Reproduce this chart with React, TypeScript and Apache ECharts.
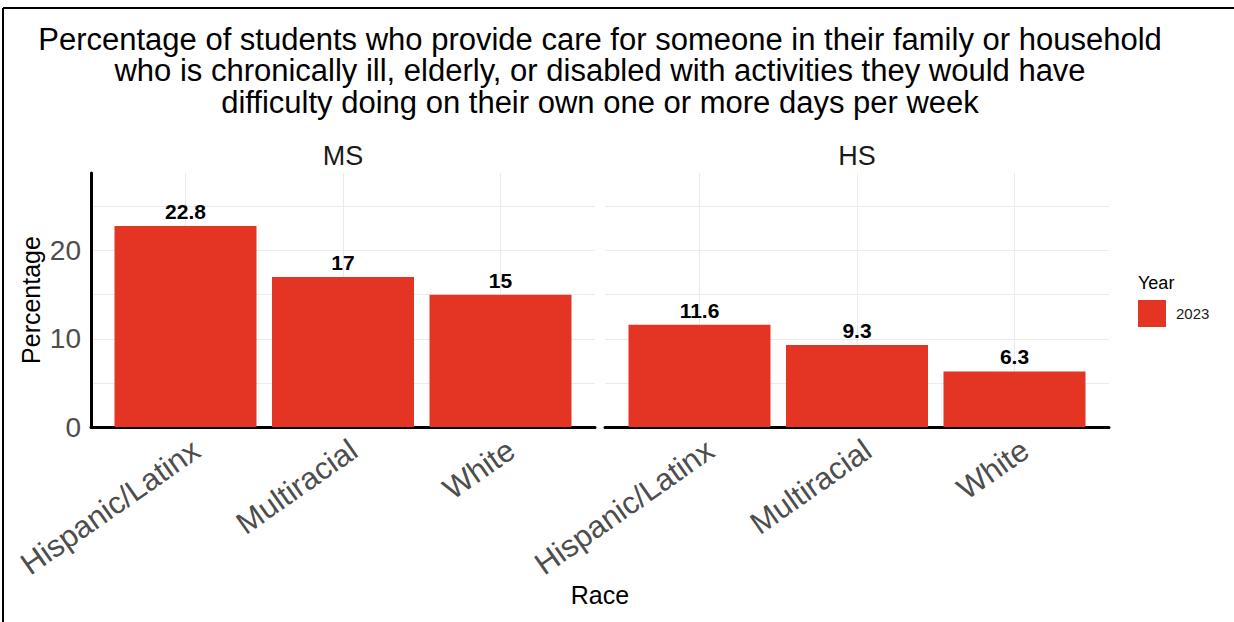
import React, { useEffect, useRef } from "react";
import * as echarts from "echarts";

const titleLines = [
  "Percentage of students who provide care for someone in their family or household",
  "who is chronically ill, elderly, or disabled with activities they would have",
  "difficulty doing on their own one or more days per week",
];
const panels = ["MS", "HS"];
const categories = ["Hispanic/Latinx", "Multiracial", "White"];
const msValues = [22.8, 17, 15];
const hsValues = [11.6, 9.3, 6.3];
const yMajorTicks = [0, 10, 20];
const legendTitle = "Year";
const legendYear = "2023";
const xTitle = "Race";
const yTitle = "Percentage";

const FONT = "'Liberation Sans', Arial, Helvetica, sans-serif";
const RED = "#e43424";

export default function App() {
  const ref = useRef<HTMLDivElement>(null);
  useEffect(() => {
    if (!ref.current) return;
    const chart = echarts.init(ref.current, undefined, { renderer: "svg" });
    const panelValues = [msValues, hsValues];
    const grids = [
      { left: 91, right: 1234 - 595, top: 173, bottom: 622 - 427 },
      { left: 605, right: 1234 - 1109, top: 173, bottom: 622 - 427 },
    ];
    const xAxes = grids.map((_, i) => ({
      type: "value",
      gridIndex: i,
      min: 0.4,
      max: categories.length + 0.6,
      axisLine: { show: true, onZero: false, lineStyle: { color: "#000", width: 3 } },
      axisTick: { show: false },
      splitLine: { show: false },
      axisLabel: { show: false },
    }));
    const yAxes = grids.map((_, i) => ({
      type: "value",
      gridIndex: i,
      min: 0,
      max: 28.8,
      interval: 5,
      axisLine: { show: i === 0, lineStyle: { color: "#000", width: 3 } },
      axisTick: { show: false },
      splitLine: { show: true, showMaxLine: false, lineStyle: { color: "#ebebeb", width: 1 } },
      axisLabel: {
        show: i === 0,
        fontSize: 28,
        color: "#4d4d4d",
        fontFamily: FONT,
        margin: 10,
        formatter: (v: number) => (yMajorTicks.includes(v) ? String(v) : ""),
      },
    }));
    const series = panelValues.map((vals, i) => ({
      type: "bar",
      name: legendYear,
      xAxisIndex: i,
      yAxisIndex: i,
      barWidth: 142,
      itemStyle: { color: RED },
      data: vals.map((v, k) => [k + 1, v]),
      label: {
        show: true,
        position: "top",
        distance: 4,
        fontSize: 21,
        fontWeight: "bold",
        color: "#000",
        fontFamily: FONT,
        formatter: (p: any) => String(p.value[1]),
      },
      markLine: {
        silent: true,
        symbol: "none",
        label: { show: false },
        lineStyle: { color: "#ebebeb", width: 1, type: "solid" },
        z: 0,
        data: categories.map((_, k) => ({ xAxis: k + 1 })),
      },
      z: 2,
    }));
    const graphic: any[] = [
      { type: "line", shape: { x1: 3, y1: 8, x2: 1234, y2: 8 }, style: { stroke: "#000", lineWidth: 2 } },
      { type: "line", shape: { x1: 3, y1: 8, x2: 3, y2: 622 }, style: { stroke: "#000", lineWidth: 2 } },
      ...titleLines.map((t, i) => ({
        type: "text",
        x: 600,
        y: 39 + i * 31.5,
        style: { text: t, fontSize: 31, fontFamily: FONT, fill: "#000", align: "center", verticalAlign: "middle" },
      })),
      ...panels.map((p, i) => ({
        type: "text",
        x: i === 0 ? 343 : 857,
        y: 156,
        style: { text: p, fontSize: 27, fontFamily: FONT, fill: "#1a1a1a", align: "center", verticalAlign: "middle" },
      })),
      {
        type: "text",
        x: 600,
        y: 595,
        style: { text: xTitle, fontSize: 25, fontFamily: FONT, fill: "#000", align: "center", verticalAlign: "middle" },
      },
      {
        type: "text",
        x: 31,
        y: 300,
        rotation: Math.PI / 2,
        style: { text: yTitle, fontSize: 25, fontFamily: FONT, fill: "#000", align: "center", verticalAlign: "middle" },
      },
      {
        type: "text",
        x: 1138,
        y: 283,
        style: { text: legendTitle, fontSize: 18, fontFamily: FONT, fill: "#000", align: "left", verticalAlign: "middle" },
      },
    ];
    chart.setOption({
      animation: false,
      backgroundColor: "#fff",
      grid: grids,
      xAxis: xAxes,
      yAxis: yAxes,
      series,
      legend: {
        left: 1138,
        top: 300,
        itemWidth: 28,
        itemHeight: 27,
        icon: "rect",
        itemGap: 8,
        textStyle: { fontSize: 15, fontFamily: FONT, color: "#1a1a1a", padding: [0, 0, 0, 5] },
        data: [legendYear],
        selectedMode: false,
        padding: 0,
      },
      graphic,
    });
    // category tick labels, placed through the axes' own scales
    const tickLabels: any[] = [];
    panels.forEach((_, i) => {
      categories.forEach((c, k) => {
        const pt = chart.convertToPixel({ xAxisIndex: i, yAxisIndex: i } as any, [k + 1, 0]) as number[];
        tickLabels.push({
          type: "text",
          x: pt[0] + 2,
          y: pt[1] + 7,
          rotation: (35 * Math.PI) / 180,
          style: {
            text: c,
            fontSize: 31,
            fontFamily: FONT,
            fill: "#4d4d4d",
            align: "right",
            verticalAlign: "top",
          },
        });
      });
    });
    chart.setOption({ graphic: [...graphic, ...tickLabels] });
    return () => chart.dispose();
  }, []);
  return <div ref={ref} style={{ position: "fixed", left: 0, top: 0, width: 1234, height: 622 }} />;
}
